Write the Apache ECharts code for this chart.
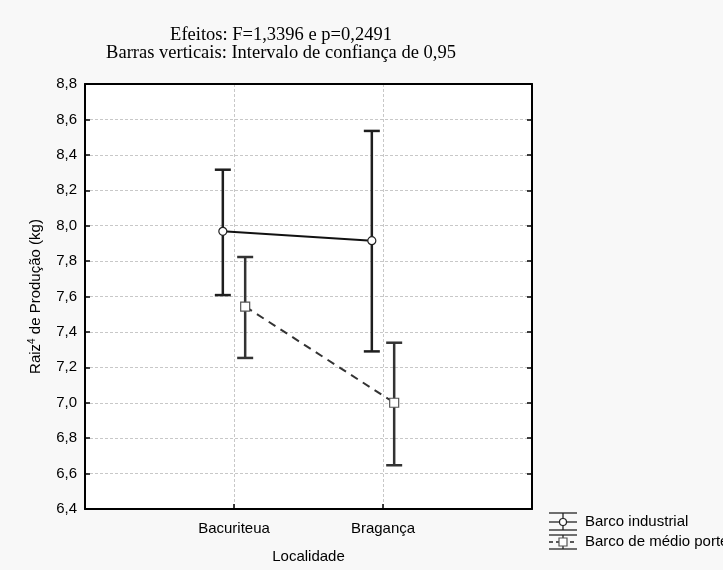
<!DOCTYPE html>
<html>
<head>
<meta charset="utf-8">
<title>Raiz4 de Produção por Localidade</title>
<script src="https://cdn.jsdelivr.net/npm/echarts@6/dist/echarts.min.js"></script>
<style>
  html, body { margin: 0; padding: 0; background: #f8f8f8; }
  #chart { width: 723px; height: 570px; }
</style>
</head>
<body>
<div id="chart"></div>
<script>
// Localities on the x axis
const categories = ['Bacuriteua', 'Bragança'];

// Barco industrial: means and 95% confidence limits
const industrialMean = [7.968, 7.915];
const industrialLow = [7.608, 7.290];
const industrialHigh = [8.316, 8.535];

// Barco de médio porte: means and 95% confidence limits
const medioMean = [7.543, 7.000];
const medioLow = [7.253, 6.647];
const medioHigh = [7.823, 7.339];

// y-axis ticks
const yMin = 6.4, yMax = 8.8, yStep = 0.2;

// Horizontal shift of each group around its category position
const shiftIndustrial = -0.075;
const shiftMedio = 0.075;

const chart = echarts.init(document.getElementById('chart'), null, { renderer: 'canvas' });

function pos(i, shift) { return i + 1 + shift; }

const indLine = industrialMean.map((v, i) => [pos(i, shiftIndustrial), v]);
const medLine = medioMean.map((v, i) => [pos(i, shiftMedio), v]);
const indBars = industrialMean.map((v, i) => [pos(i, shiftIndustrial), industrialLow[i], industrialHigh[i]]);
const medBars = medioMean.map((v, i) => [pos(i, shiftMedio), medioLow[i], medioHigh[i]]);

function errorBarRenderer(color) {
  return function (params, api) {
    const x = api.value(0);
    const lo = api.coord([x, api.value(1)]);
    const hi = api.coord([x, api.value(2)]);
    const half = 8;
    const style = { stroke: color, lineWidth: 2.5 };
    return {
      type: 'group',
      children: [
        { type: 'line', shape: { x1: lo[0], y1: lo[1], x2: hi[0], y2: hi[1] }, style },
        { type: 'line', shape: { x1: hi[0] - half, y1: hi[1], x2: hi[0] + half, y2: hi[1] }, style },
        { type: 'line', shape: { x1: lo[0] - half, y1: lo[1], x2: lo[0] + half, y2: lo[1] }, style }
      ]
    };
  };
}

const sans = 'Liberation Sans, Arial, sans-serif';
const serif = 'Liberation Serif, Times New Roman, serif';

const gridLeft = 85, gridTop = 84, gridW = 447, gridH = 425;

// Legend glyphs: error-bar shaped icons beside the series names
function legendIcon(yTop, yMid, yBot, markerShape, dashed) {
  const x1 = 549, x2 = 577, xc = 563;
  const st = { stroke: '#222', lineWidth: 1.3 };
  const kids = [
    { type: 'line', shape: { x1, y1: yTop, x2, y2: yTop }, style: st },
    { type: 'line', shape: { x1, y1: yBot, x2, y2: yBot }, style: st },
    { type: 'line', shape: { x1: xc, y1: yTop, x2: xc, y2: yBot }, style: st },
    { type: 'line', shape: { x1, y1: yMid, x2, y2: yMid }, style: Object.assign({}, st, dashed ? { lineDash: [4, 3] } : {}) }
  ];
  if (markerShape === 'circle') {
    kids.push({ type: 'circle', shape: { cx: xc, cy: yMid, r: 3.5 }, style: { fill: '#fff', stroke: '#222', lineWidth: 1.2 } });
  } else {
    kids.push({ type: 'rect', shape: { x: xc - 4, y: yMid - 4, width: 8, height: 8 }, style: { fill: '#fff', stroke: '#555', lineWidth: 1.2 } });
  }
  return { type: 'group', children: kids };
}

const frameLine = { show: true, onZero: false, lineStyle: { color: '#000', width: 2 } };
const tickStyle = { show: true, inside: true, length: 5, lineStyle: { color: '#000', width: 1.5 } };
const gridDash = { show: true, lineStyle: { color: '#c8c8c8', type: [3, 2], width: 1 } };

const option = {
  backgroundColor: '#f8f8f8',
  animation: false,
  grid: {
    left: gridLeft, top: gridTop, width: gridW, height: gridH,
    show: true, backgroundColor: '#ffffff', borderWidth: 0
  },
  graphic: [
    { type: 'text', x: 281, y: 35, style: { text: 'Efeitos: F=1,3396 e p=0,2491', font: '18.5px ' + serif, fill: '#000', align: 'center', verticalAlign: 'middle' } },
    { type: 'text', x: 281, y: 53, style: { text: 'Barras verticais: Intervalo de confiança de 0,95', font: '18.5px ' + serif, fill: '#000', align: 'center', verticalAlign: 'middle' } },
    legendIcon(513, 522, 530, 'circle', false),
    legendIcon(535, 542, 549, 'rect', true),
    { type: 'text', x: 585, y: 522, style: { text: 'Barco industrial', font: '15px ' + sans, fill: '#000', verticalAlign: 'middle' } },
    { type: 'text', x: 585, y: 542, style: { text: 'Barco de médio porte', font: '15px ' + sans, fill: '#000', verticalAlign: 'middle' } }
  ],
  xAxis: [{
    type: 'value', min: 0, max: categories.length + 1, interval: 1, position: 'bottom',
    name: 'Localidade', nameLocation: 'middle', nameGap: 40,
    nameTextStyle: { fontFamily: sans, fontSize: 15, color: '#000' },
    axisLine: frameLine,
    axisTick: tickStyle,
    axisLabel: {
      margin: 12, fontFamily: sans, fontSize: 15, color: '#000',
      formatter: v => (v >= 1 && v <= categories.length && Number.isInteger(v)) ? categories[v - 1] : ''
    },
    splitLine: gridDash
  }, {
    type: 'value', min: 0, max: categories.length + 1, interval: 1, position: 'top',
    axisLine: frameLine,
    axisTick: { show: false },
    axisLabel: { show: false },
    splitLine: { show: false }
  }],
  yAxis: [{
    type: 'value', min: yMin, max: yMax, interval: yStep, position: 'left',
    name: '{a|Raiz}{s|4}{a| de Produção (kg)}', nameLocation: 'middle', nameGap: 40, nameRotate: 90,
    nameTextStyle: {
      rich: {
        a: { fontFamily: sans, fontSize: 15, color: '#000', lineHeight: 18 },
        s: { fontFamily: sans, fontSize: 10, color: '#000', verticalAlign: 'top', lineHeight: 12 }
      }
    },
    axisLine: frameLine,
    axisTick: tickStyle,
    axisLabel: {
      margin: 8, fontFamily: sans, fontSize: 15, color: '#000',
      formatter: v => v.toFixed(1).replace('.', ',')
    },
    splitLine: gridDash
  }, {
    type: 'value', min: yMin, max: yMax, interval: yStep, position: 'right',
    axisLine: frameLine,
    axisTick: tickStyle,
    axisLabel: { show: false },
    splitLine: { show: false }
  }],
  series: [
    {
      name: 'Barco industrial (IC)', type: 'custom', z: 2,
      renderItem: errorBarRenderer('#1e1e1e'), data: indBars, silent: true
    },
    {
      name: 'Barco de médio porte (IC)', type: 'custom', z: 2,
      renderItem: errorBarRenderer('#333333'), data: medBars, silent: true
    },
    {
      name: 'Barco industrial', type: 'line', z: 3, data: indLine,
      symbol: 'circle', symbolSize: 8,
      lineStyle: { color: '#111', width: 2 },
      itemStyle: { color: '#fff', borderColor: '#222', borderWidth: 1.2 }
    },
    {
      name: 'Barco de médio porte', type: 'line', z: 3, data: medLine,
      symbol: 'rect', symbolSize: 9,
      lineStyle: { color: '#333', width: 2, type: [8, 6] },
      itemStyle: { color: '#fff', borderColor: '#555', borderWidth: 1.2 }
    }
  ]
};

chart.setOption(option);
</script>
</body>
</html>
